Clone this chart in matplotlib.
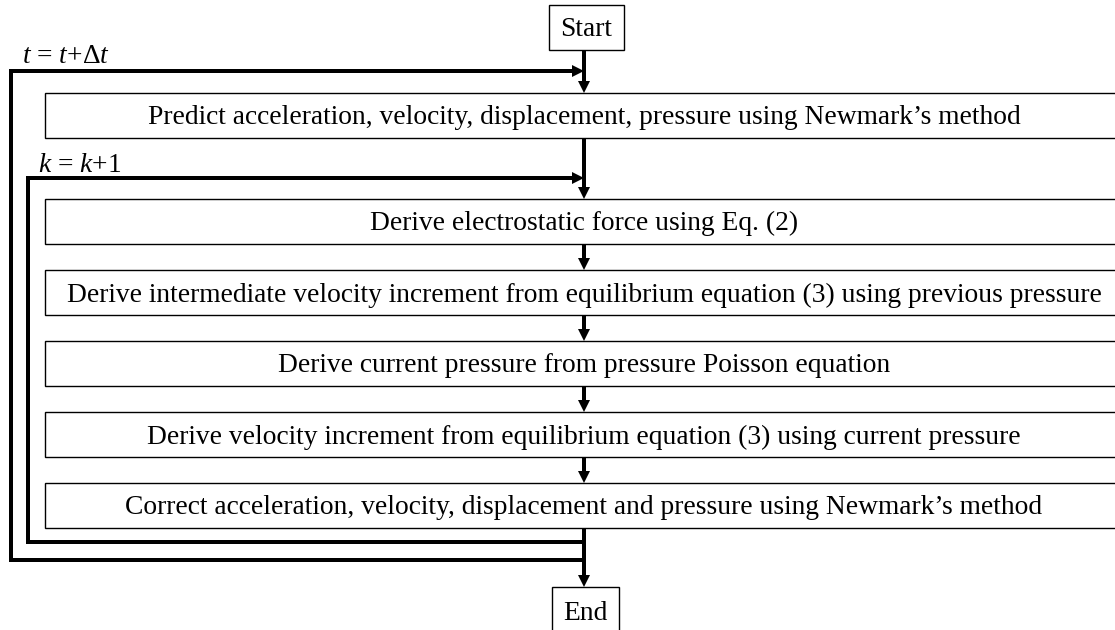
import matplotlib
matplotlib.use("Agg")
import matplotlib.pyplot as plt
from matplotlib.patches import Rectangle, Polygon

plt.rcParams['font.family'] = ['Liberation Serif', 'DejaVu Serif']
plt.rcParams['mathtext.fontset'] = 'custom'
plt.rcParams['mathtext.rm'] = 'Liberation Serif'
plt.rcParams['mathtext.it'] = 'Liberation Serif:italic'

# ---- content ----
start_label = "Start"
end_label = "End"
steps = [
    "Predict acceleration, velocity, displacement, pressure using Newmark\u2019s method",
    "Derive electrostatic force using Eq. (2)",
    "Derive intermediate velocity increment from equilibrium equation (3) using previous pressure",
    "Derive current pressure from pressure Poisson equation",
    "Derive velocity increment from equilibrium equation (3) using current pressure",
    "Correct acceleration, velocity, displacement and pressure using Newmark\u2019s method",
]
outer_loop_label = "$t$ = $t$+\u0394$t$"
inner_loop_label = "$k$ = $k$+1"

# ---- layout (pixel units) ----
W, H = 1115, 630
cx = 584
box_left, box_right = 45, 1123
box_h = 45
box_tops = [93, 199, 270, 341, 412, 483]
start_box = (549, 5, 624, 50)
end_box = (552, 587, 619, 640)
outer_y_top, outer_y_bot, outer_x = 71, 560, 11
inner_y_top, inner_y_bot, inner_x = 178, 542, 28
fs = 19.8
base_off = 9.0
thick = 4 * 72 / 100
thin = 1.0
head_len, head_hw = 12, 6

fig = plt.figure(figsize=(W / 100, H / 100), dpi=100)
ax = fig.add_axes([0, 0, 1, 1])
ax.set_xlim(0, W)
ax.set_ylim(H, 0)
ax.axis('off')


def line(xs, ys):
    ax.plot(xs, ys, color='black', lw=thick, solid_joinstyle='miter',
            solid_capstyle='butt', zorder=3)


def arrow_down(x, y0, y1):
    line([x, x], [y0, y1 - head_len + 1])
    ax.add_patch(Polygon([(x - head_hw, y1 - head_len), (x + head_hw, y1 - head_len), (x, y1)],
                         closed=True, color='black', lw=0, zorder=4))


def arrow_right(x1, y):
    ax.add_patch(Polygon([(x1 - head_len, y - head_hw), (x1 - head_len, y + head_hw), (x1, y)],
                         closed=True, color='black', lw=0, zorder=4))


def box(x0, y0, x1, y1, text, tx, ty):
    ax.add_patch(Rectangle((x0, y0), x1 - x0, y1 - y0, fill=True, facecolor='white',
                           edgecolor='black', lw=thin, zorder=2))
    ax.text(tx, ty, text, ha='center', va='baseline', fontsize=fs, zorder=5)


# start / end
box(*start_box, start_label, (start_box[0] + start_box[2]) / 2,
    (start_box[1] + start_box[3]) / 2 + base_off)
box(*end_box, end_label, (end_box[0] + end_box[2]) / 2, 620)

# steps
for top, label in zip(box_tops, steps):
    box(box_left, top, box_right, top + box_h, label, cx, top + box_h / 2 + base_off)

# vertical flow
arrow_down(cx, start_box[3], box_tops[0])
for i in range(len(box_tops) - 1):
    arrow_down(cx, box_tops[i] + box_h, box_tops[i + 1])
arrow_down(cx, box_tops[-1] + box_h, end_box[1])

# outer loop (time step)
line([cx, outer_x, outer_x, cx - head_len + 1], [outer_y_bot, outer_y_bot, outer_y_top, outer_y_top])
arrow_right(cx, outer_y_top)
# inner loop (iteration)
line([cx, inner_x, inner_x, cx - head_len + 1], [inner_y_bot, inner_y_bot, inner_y_top, inner_y_top])
arrow_right(cx, inner_y_top)

ax.text(22, 63, outer_loop_label, ha='left', va='baseline', fontsize=fs)
ax.text(38, 172, inner_loop_label, ha='left', va='baseline', fontsize=fs)

fig.savefig("out.png", dpi=100, facecolor='white')
